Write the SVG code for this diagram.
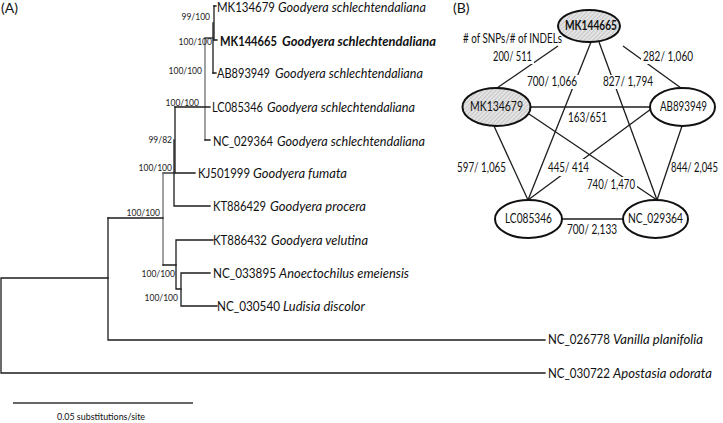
<svg xmlns="http://www.w3.org/2000/svg" width="723" height="423" viewBox="0 0 723 423">
<style>
.br{stroke:#1c1c1c;stroke-width:1.3;fill:none;stroke-linecap:square}
.g{stroke:#6e6e6e}
.t{font-family:Lato,"Liberation Sans",sans-serif;font-size:12.5px;fill:#111}
.sp{font-style:italic}
.b{font-weight:bold}
.bs{font-family:Lato,"Liberation Sans",sans-serif;font-size:8.5px;fill:#222;text-anchor:end}
.pl{font-family:Lato,"Liberation Sans",sans-serif;font-size:14px;fill:#111}
.nd{stroke:#111;stroke-width:2}
.ed{stroke:#1c1c1c;stroke-width:1.3;fill:none}
.bk{fill:#fff}
.c{text-anchor:middle}
</style>
<defs>
<pattern id="hatch" width="3" height="3" patternUnits="userSpaceOnUse" patternTransform="rotate(45)">
<rect width="3" height="3" fill="#e4e4e4"/>
<line x1="0" y1="0" x2="0" y2="3" stroke="#a8a8a8" stroke-width="1"/>
</pattern>
</defs>
<rect width="723" height="423" fill="#fff"/>

<text class="pl" x="1" y="13">(A)</text>
<text class="pl" x="453" y="13">(B)</text>

<g id="tree-branches">
<path class="br" d="M214,6 H216 M214,40 H217 M213,73 H216"/>
<path class="br" d="M214,6 V40" stroke-width="2"/>
<path class="br" d="M213,23 V73"/>
<path class="br" d="M205,38 H213"/>
<path class="br g" d="M205,38 V140" stroke-width="1.8"/>
<path class="br" d="M175,107 H210 M205,140 H210"/>
<path class="br" d="M175,107 V173 M175,173 H195"/>
<path class="br" d="M174,140 V206 M174,206 H210"/>
<path class="br" d="M163,173 H174"/>
<path class="br g" d="M163,173 V265" stroke-width="1.6"/>
<path class="br" d="M108,218 H163 M163,265 H176"/>
<path class="br" d="M176,240 V289 M176,240 H213 M176,289 H181"/>
<path class="br" d="M181,273 V306 M181,273 H210 M181,306 H217"/>
<path class="br" d="M108,218 V340 M108,340 H545"/>
<path class="br" d="M1,278 H108 M1,278 V373 M1,373 H545"/>
</g>

<g id="bootstrap">
<text class="bs" x="210" y="20">99/100</text>
<text class="bs" x="212" y="45">100/100</text>
<text class="bs" x="202" y="74">100/100</text>
<text class="bs" x="199" y="106">100/100</text>
<text class="bs" x="172" y="143">99/82</text>
<text class="bs" x="172" y="171">100/100</text>
<text class="bs" x="160" y="216">100/100</text>
<text class="bs" x="175" y="277">100/100</text>
<text class="bs" x="178" y="301">100/100</text>
</g>

<g id="leaf-MK134679">
<text class="t" x="217" y="12" textLength="58" lengthAdjust="spacingAndGlyphs">MK134679</text>
<text class="t sp" x="278" y="12" textLength="148" lengthAdjust="spacingAndGlyphs">Goodyera schlechtendaliana</text>
</g>
<g id="leaf-MK144665">
<text class="t b" x="220" y="46" textLength="57" lengthAdjust="spacingAndGlyphs">MK144665</text>
<text class="t b sp" x="282" y="46" textLength="154" lengthAdjust="spacingAndGlyphs">Goodyera schlechtendaliana</text>
</g>
<g id="leaf-AB893949">
<text class="t" x="217" y="78" textLength="53" lengthAdjust="spacingAndGlyphs">AB893949</text>
<text class="t sp" x="275" y="78" textLength="148" lengthAdjust="spacingAndGlyphs">Goodyera schlechtendaliana</text>
</g>
<g id="leaf-LC085346">
<text class="t" x="212" y="112" textLength="51" lengthAdjust="spacingAndGlyphs">LC085346</text>
<text class="t sp" x="267" y="112" textLength="148" lengthAdjust="spacingAndGlyphs">Goodyera schlechtendaliana</text>
</g>
<g id="leaf-NC_029364">
<text class="t" x="213" y="146" textLength="60" lengthAdjust="spacingAndGlyphs">NC_029364</text>
<text class="t sp" x="277" y="146" textLength="148" lengthAdjust="spacingAndGlyphs">Goodyera schlechtendaliana</text>
</g>
<g id="leaf-KJ501999">
<text class="t" x="198" y="178" textLength="52" lengthAdjust="spacingAndGlyphs">KJ501999</text>
<text class="t sp" x="253" y="178" textLength="94" lengthAdjust="spacingAndGlyphs">Goodyera fumata</text>
</g>
<g id="leaf-KT886429">
<text class="t" x="213" y="211" textLength="53" lengthAdjust="spacingAndGlyphs">KT886429</text>
<text class="t sp" x="270" y="211" textLength="96" lengthAdjust="spacingAndGlyphs">Goodyera procera</text>
</g>
<g id="leaf-KT886432">
<text class="t" x="213" y="245" textLength="54" lengthAdjust="spacingAndGlyphs">KT886432</text>
<text class="t sp" x="271" y="245" textLength="97" lengthAdjust="spacingAndGlyphs">Goodyera velutina</text>
</g>
<g id="leaf-NC_033895">
<text class="t" x="213" y="278" textLength="63" lengthAdjust="spacingAndGlyphs">NC_033895</text>
<text class="t sp" x="279" y="278" textLength="130" lengthAdjust="spacingAndGlyphs">Anoectochilus emeiensis</text>
</g>
<g id="leaf-NC_030540">
<text class="t" x="217" y="311" textLength="63" lengthAdjust="spacingAndGlyphs">NC_030540</text>
<text class="t sp" x="283" y="311" textLength="82" lengthAdjust="spacingAndGlyphs">Ludisia discolor</text>
</g>
<g id="leaf-NC_026778">
<text class="t" x="548" y="344" textLength="62" lengthAdjust="spacingAndGlyphs">NC_026778</text>
<text class="t sp" x="613" y="344" textLength="90" lengthAdjust="spacingAndGlyphs">Vanilla planifolia</text>
</g>
<g id="leaf-NC_030722">
<text class="t" x="548" y="378" textLength="62" lengthAdjust="spacingAndGlyphs">NC_030722</text>
<text class="t sp" x="613" y="378" textLength="99" lengthAdjust="spacingAndGlyphs">Apostasia odorata</text>
</g>

<g id="scale-bar">
<line x1="13" y1="403" x2="193" y2="403" stroke="#333" stroke-width="1.5"/>
<text x="101" y="420" font-family="Lato,'Liberation Sans',sans-serif" font-size="9" fill="#111" text-anchor="middle" textLength="88" lengthAdjust="spacingAndGlyphs">0.05 substitutions/site</text>
</g>

<g id="connectors">
<line class="ed" x1="558" y1="46" x2="497" y2="88"/>
<line class="ed" x1="623" y1="46" x2="681" y2="88"/>
<line class="ed" x1="591" y1="42" x2="528" y2="200"/>
<line class="ed" x1="599" y1="42" x2="657" y2="200"/>
<line class="ed" x1="530" y1="107" x2="650" y2="107" stroke="#444" stroke-width="2"/>
<line class="ed" x1="494" y1="126" x2="528" y2="200"/>
<line class="ed" x1="529" y1="114" x2="657" y2="200"/>
<line class="ed" x1="651" y1="109" x2="528" y2="200"/>
<line class="ed" x1="682" y1="126" x2="657" y2="200"/>
<line class="ed" x1="562" y1="219" x2="623" y2="219" stroke="#444" stroke-width="2.2"/>
</g>

<g id="edge-labels">
<text class="t" x="463" y="43" textLength="99" lengthAdjust="spacingAndGlyphs"># of SNPs/# of INDELs</text>
<rect class="bk" x="491" y="51" width="43" height="13"/>
<text class="t" x="493" y="61" textLength="39" lengthAdjust="spacingAndGlyphs">200/ 511</text>
<rect class="bk" x="641" y="51" width="54" height="13"/>
<text class="t" x="643" y="61" textLength="50" lengthAdjust="spacingAndGlyphs">282/ 1,060</text>
<rect class="bk" x="525" y="75" width="55" height="14"/>
<text class="t" x="527" y="86" textLength="50" lengthAdjust="spacingAndGlyphs">700/ 1,066</text>
<rect class="bk" x="602" y="75" width="53" height="14"/>
<text class="t" x="603" y="86" textLength="50" lengthAdjust="spacingAndGlyphs">827/ 1,794</text>
<text class="t" x="568" y="122" textLength="39" lengthAdjust="spacingAndGlyphs">163/651</text>
<text class="t" x="457" y="172" textLength="49" lengthAdjust="spacingAndGlyphs">597/ 1,065</text>
<rect class="bk" x="546" y="159" width="44" height="17"/>
<text class="t" x="548" y="172" textLength="41" lengthAdjust="spacingAndGlyphs">445/ 414</text>
<text class="t" x="671" y="172" textLength="47" lengthAdjust="spacingAndGlyphs">844/ 2,045</text>
<rect class="bk" x="585" y="177" width="52" height="16"/>
<text class="t" x="587" y="189" textLength="48" lengthAdjust="spacingAndGlyphs">740/ 1,470</text>
<text class="t" x="567" y="234" textLength="50" lengthAdjust="spacingAndGlyphs">700/ 2,133</text>
</g>

<g id="node-MK144665">
<ellipse class="nd" cx="589" cy="26" rx="31" ry="16" fill="url(#hatch)"/>
<text class="t c b" x="591" y="30" textLength="52" lengthAdjust="spacingAndGlyphs">MK144665</text>
</g>
<g id="node-MK134679">
<ellipse class="nd" cx="496.5" cy="107" rx="34" ry="19" fill="url(#hatch)"/>
<text class="t c" x="496.5" y="111" textLength="53" lengthAdjust="spacingAndGlyphs">MK134679</text>
</g>
<g id="node-AB893949">
<ellipse class="nd" cx="682.5" cy="107" rx="32.5" ry="19" fill="#fff"/>
<text class="t c" x="683.5" y="111" textLength="47" lengthAdjust="spacingAndGlyphs">AB893949</text>
</g>
<g id="node-LC085346">
<ellipse class="nd" cx="528.5" cy="219" rx="33.5" ry="19" fill="#fff"/>
<text class="t c" x="528.5" y="223" textLength="47" lengthAdjust="spacingAndGlyphs">LC085346</text>
</g>
<g id="node-NC_029364">
<ellipse class="nd" cx="655.5" cy="219" rx="32.5" ry="19" fill="#fff"/>
<text class="t c" x="655.5" y="223" textLength="55" lengthAdjust="spacingAndGlyphs">NC_029364</text>
</g>
</svg>
